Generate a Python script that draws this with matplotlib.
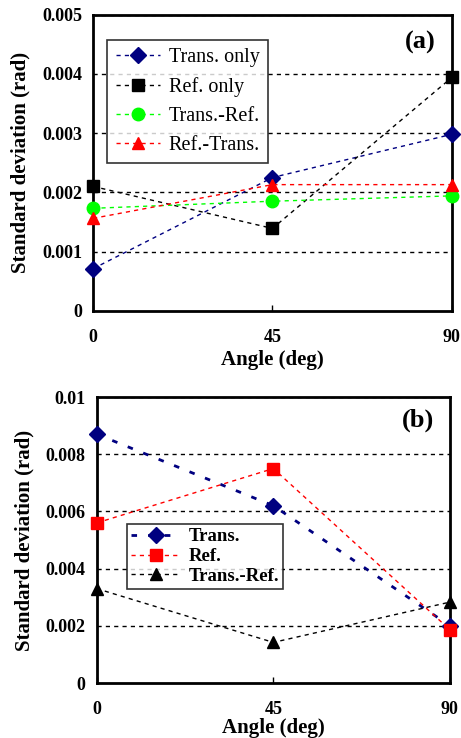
import matplotlib
matplotlib.use("Agg")
import matplotlib.pyplot as plt

plt.rcParams['font.family'] = ['Liberation Serif', 'DejaVu Serif']

angles = [0, 45, 90]

# panel (a)
trans_only = [0.00071, 0.00225, 0.00298]
ref_only = [0.00210, 0.00139, 0.00394]
trans_ref_a = [0.00173, 0.00185, 0.00194]
ref_trans_a = [0.00156, 0.00213, 0.00213]

# panel (b)
trans_b = [0.0087, 0.0062, 0.0020]
ref_b = [0.0056, 0.0075, 0.00186]
trans_ref_b = [0.0033, 0.00142, 0.00283]

fig = plt.figure(figsize=(4.61, 7.38), dpi=100)
ax1 = fig.add_axes([0.202, 0.579, 0.778, 0.401])
ax2 = fig.add_axes([0.210, 0.0745, 0.766, 0.3875])


def style_axes(ax, ymax, yticks, ylabels, xlabelpad):
    ax.set_xlim(0, 90)
    ax.set_ylim(0, ymax)
    ax.set_xticks(angles)
    ax.set_xticklabels([str(a) for a in angles], fontweight='bold', fontsize=13)
    ax.set_yticks(yticks)
    ax.set_yticklabels(ylabels, fontweight='bold', fontsize=13)
    for g in yticks[1:]:
        ax.axhline(g, color='black', lw=1.0, ls=(0, (3, 3)), zorder=0)
    for s in ax.spines.values():
        s.set_linewidth(2)
    ax.tick_params(axis='x', direction='in', length=4, width=1, pad=13)
    ax.tick_params(axis='y', length=0, pad=8)
    ax.set_xlabel('Angle (deg)', fontweight='bold', fontsize=15, labelpad=xlabelpad)
    ax.set_ylabel('Standard deviation (rad)', fontweight='bold', fontsize=15, labelpad=8)


style_axes(ax1, 0.005, [0, 0.001, 0.002, 0.003, 0.004, 0.005],
           ['0', '0.001', '0.002', '0.003', '0.004', '0.005'], 3)

dash = (0, (3, 3))
ax1.plot(angles, trans_only, color='#000080', ls=dash, lw=1, marker='D', ms=8,
         label='Trans. only', clip_on=False, zorder=3)
ax1.plot(angles, ref_only, color='black', ls=dash, lw=1, marker='s', ms=9,
         label='Ref. only', clip_on=False, zorder=3)
ax1.plot(angles, trans_ref_a, color='#00ff00', ls=dash, lw=1, marker='o', ms=9,
         label='Trans.-Ref.', clip_on=False, zorder=3)
ax1.plot(angles, ref_trans_a, color='red', ls=dash, lw=1, marker='^', ms=9,
         label='Ref.-Trans.', clip_on=False, zorder=3)
leg1 = ax1.legend(loc='upper left', bbox_to_anchor=(0.04, 0.915), fontsize=14.5,
                  frameon=True, fancybox=False, edgecolor='black', handlelength=2.2,
                  borderpad=0.4, labelspacing=0.5, handletextpad=0.45, borderaxespad=0)
leg1.get_frame().set_linewidth(1.2)
leg1.set_zorder(5)
ax1.text(0.955, 0.945, '(a)', transform=ax1.transAxes, ha='right', va='top',
         fontsize=19, fontweight='bold')

style_axes(ax2, 0.01, [0, 0.002, 0.004, 0.006, 0.008, 0.01],
           ['0', '0.002', '0.004', '0.006', '0.008', '0.01'], 0)
ax2.plot(angles, trans_b, color='#000080', ls=(0, (2, 4)), lw=2, marker='D', ms=8,
         label='Trans.', clip_on=False, zorder=3)
ax2.plot(angles, ref_b, color='red', ls=dash, lw=1, marker='s', ms=9,
         label='Ref.', clip_on=False, zorder=3)
ax2.plot(angles, trans_ref_b, color='black', ls=dash, lw=1, marker='^', ms=9,
         label='Trans.-Ref.', clip_on=False, zorder=3)
leg2 = ax2.legend(loc='upper left', bbox_to_anchor=(0.085, 0.555),
                  prop={'weight': 'bold', 'size': 13.5},
                  frameon=True, fancybox=False, edgecolor='black', handlelength=2.7,
                  borderpad=0.2, labelspacing=0.15, handletextpad=0.4, borderaxespad=0)
leg2.get_frame().set_linewidth(1.2)
leg2.set_zorder(5)
ax2.text(0.955, 0.96, '(b)', transform=ax2.transAxes, ha='right', va='top',
         fontsize=19, fontweight='bold')

fig.savefig('out.png', dpi=100)
